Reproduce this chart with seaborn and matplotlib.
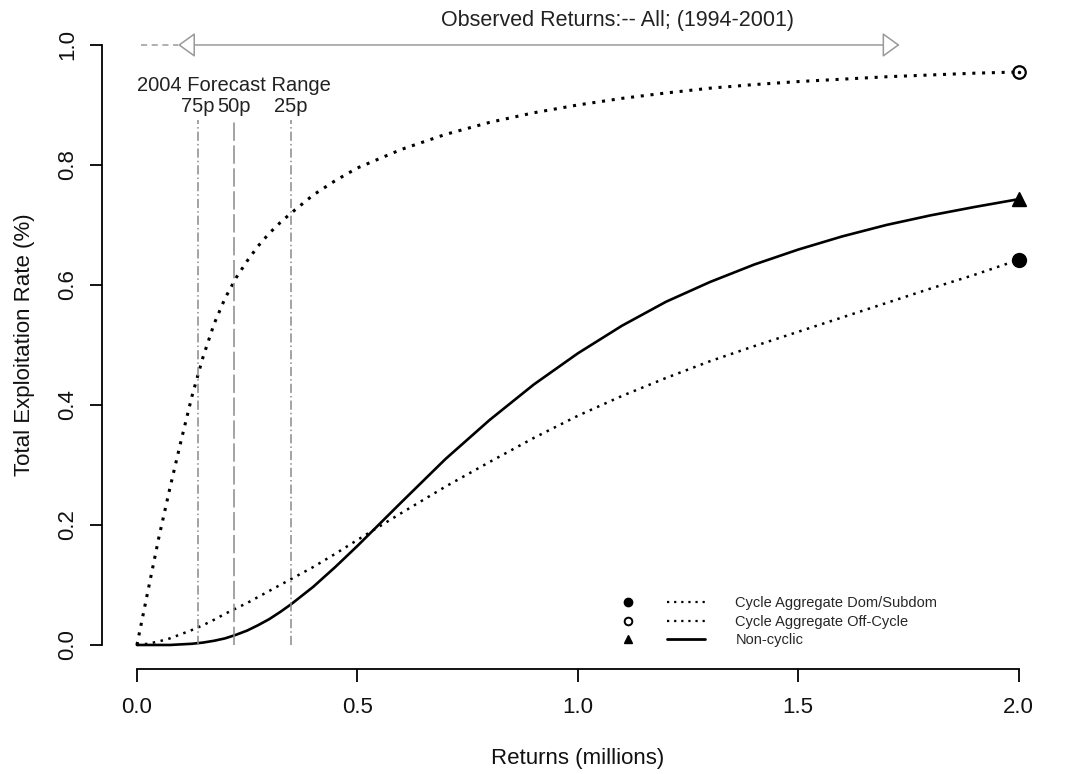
import matplotlib
matplotlib.use("Agg")
import matplotlib.pyplot as plt
import pandas as pd
import seaborn as sns
from matplotlib.lines import Line2D
from matplotlib.legend_handler import HandlerTuple

# returns in millions
returns = [0, 0.025, 0.05, 0.075, 0.1, 0.125, 0.15, 0.175, 0.2, 0.225, 0.25, 0.275, 0.3, 0.325,
           0.35, 0.4, 0.45, 0.5, 0.6, 0.7, 0.8, 0.9, 1.0, 1.1, 1.2, 1.3, 1.4, 1.5, 1.6, 1.7,
           1.8, 1.9, 2.0]
dom_subdom = [0, 0.002, 0.006, 0.011, 0.018, 0.025, 0.033, 0.042, 0.052, 0.061, 0.07, 0.08, 0.09,
              0.1, 0.11, 0.13, 0.152, 0.175, 0.22, 0.264, 0.305, 0.345, 0.382, 0.415, 0.445,
              0.473, 0.498, 0.522, 0.546, 0.57, 0.594, 0.617, 0.642]
off_cycle = [0, 0.09, 0.18, 0.262, 0.34, 0.415, 0.48, 0.535, 0.578, 0.612, 0.64, 0.665, 0.686,
             0.704, 0.72, 0.75, 0.774, 0.795, 0.826, 0.851, 0.871, 0.887, 0.9, 0.911, 0.92,
             0.928, 0.934, 0.939, 0.943, 0.947, 0.95, 0.953, 0.955]
non_cyclic = [0, 0, 0, 0, 0.001, 0.002, 0.004, 0.007, 0.011, 0.017, 0.024, 0.033, 0.043, 0.055,
              0.068, 0.097, 0.13, 0.165, 0.238, 0.31, 0.375, 0.434, 0.486, 0.532, 0.572, 0.605,
              0.634, 0.659, 0.681, 0.7, 0.716, 0.73, 0.743]

series_names = ["Cycle Aggregate Dom/Subdom", "Cycle Aggregate Off-Cycle", "Non-cyclic"]

# 2004 forecast percentiles (returns, millions)
forecast_labels = ["75p", "50p", "25p"]
forecast_values = [0.139, 0.221, 0.350]

# observed returns range 1994-2001
observed_min = 0.093
observed_max = 1.73

df = pd.DataFrame({"returns": returns, "dom": dom_subdom, "off": off_cycle, "non": non_cyclic})

sns.set_theme(style="ticks")
plt.rcParams["font.family"] = ["Liberation Sans", "DejaVu Sans"]

fig = plt.figure(figsize=(10.7, 7.74), dpi=100)
ax = fig.add_axes([0.095, 0.1357, 0.890, 0.8372])

dotted = (0, (1, 2.2))
sns.lineplot(data=df, x="returns", y="dom", ax=ax, color="black", lw=1.8, linestyle=dotted)
sns.lineplot(data=df, x="returns", y="off", ax=ax, color="black", lw=2.2, linestyle=dotted)
sns.lineplot(data=df, x="returns", y="non", ax=ax, color="black", lw=1.9, linestyle="-")

# end-point markers
ax.plot(returns[-1], dom_subdom[-1], "o", color="black", ms=10)
ax.plot(returns[-1], off_cycle[-1], "o", mfc="white", mec="black", mew=1.6, ms=9, zorder=1)
ax.plot(returns[-1], off_cycle[-1], ".", color="black", ms=3)
ax.plot(returns[-1], non_cyclic[-1], "^", color="black", ms=10)

# forecast range lines
styles = [(0, (6, 2, 1, 2)), (0, (12, 3)), (0, (6, 2, 1, 2))]
for val, lab, st in zip(forecast_values, forecast_labels, styles):
    ax.plot([val, val], [0, 0.875], color="#8a8a8a", lw=1.1, linestyle=st)
    ax.text(val, 0.897, lab, ha="center", va="center", fontsize=14.5, color="#222222")
ax.text(forecast_values[1], 0.932, "2004 Forecast Range", ha="center", va="center",
        fontsize=14.5, color="#222222")

# observed range arrow
ax.plot([0.01, observed_min], [1.0, 1.0], color="#9a9a9a", lw=1.1, linestyle=(0, (4, 3)))
ax.annotate("", xy=(observed_min, 1.0), xytext=(observed_max, 1.0),
            arrowprops=dict(arrowstyle="<|-|>,head_length=0.9,head_width=0.65",
                            fc="white", ec="#9a9a9a", lw=1.1, shrinkA=0, shrinkB=0))
ax.text(1.09, 1.04, "Observed Returns:-- All; (1994-2001)", ha="center", va="center",
        fontsize=15.5, color="#222222", clip_on=False)

ax.set_xlim(-0.08, 2.08)
ax.set_ylim(-0.04, 1.04)
ax.set_xticks([0, 0.5, 1.0, 1.5, 2.0])
ax.set_yticks([0, 0.2, 0.4, 0.6, 0.8, 1.0])
ax.set_xticklabels(["0.0", "0.5", "1.0", "1.5", "2.0"])
ax.set_yticklabels(["0.0", "0.2", "0.4", "0.6", "0.8", "1.0"], rotation=90, va="center")
ax.tick_params(axis="both", length=9, width=1.3, color="black", labelsize=16,
               labelcolor="#111111")
ax.tick_params(axis="x", pad=11)
ax.tick_params(axis="y", pad=8)
for s in ["top", "right"]:
    ax.spines[s].set_visible(False)
for s in ["left", "bottom"]:
    ax.spines[s].set_color("black")
    ax.spines[s].set_linewidth(1.3)
ax.spines["left"].set_bounds(0, 1)
ax.spines["bottom"].set_bounds(0, 2)
ax.grid(False)

ax.set_xlabel("Returns (millions)", fontsize=16, labelpad=22, color="#111111")
ax.set_ylabel("Total Exploitation Rate (%)", fontsize=16, labelpad=16, color="#111111")

# legend: marker column plus line column
mk = [Line2D([], [], marker="o", ls="none", color="black", ms=6),
      Line2D([], [], marker="o", ls="none", mfc="white", mec="black", mew=1.4, ms=5.5),
      Line2D([], [], marker="^", ls="none", color="black", ms=6)]
ln = [Line2D([], [], color="black", lw=1.6, ls=(0, (1, 2.2))),
      Line2D([], [], color="black", lw=1.6, ls=(0, (1, 2.2))),
      Line2D([], [], color="black", lw=2.0, ls="-")]
ax.legend([(m, l) for m, l in zip(mk, ln)], series_names,
          handler_map={tuple: HandlerTuple(ndivide=None, pad=1.37)},
          handlelength=6.6, handletextpad=2.05, labelspacing=0.3, frameon=False,
          fontsize=10.5, loc="center left", bbox_to_anchor=(0.533, 0.073),
          borderaxespad=0, borderpad=0)

fig.savefig("out.png", dpi=100)
